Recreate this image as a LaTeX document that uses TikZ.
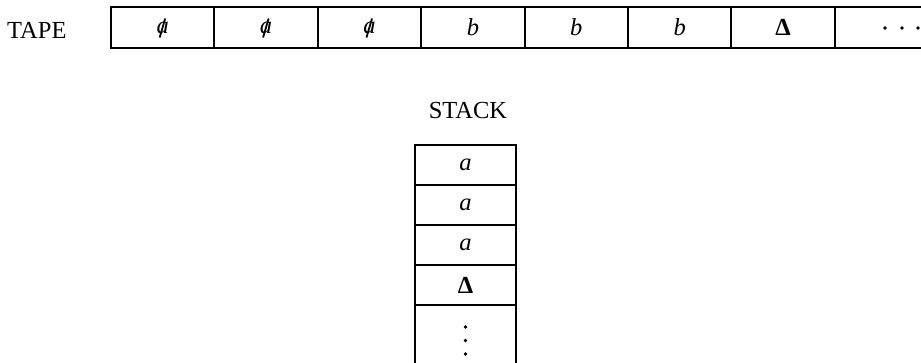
\documentclass[tikz,border=0pt]{standalone}
\usepackage{fontspec}
\setmainfont{Liberation Serif}
\begin{document}
\begin{tikzpicture}[x=1pt,y=-1pt,
  txt/.style={font=\fontsize{24.5}{26}\selectfont},
  tcell/.style={draw, line width=2pt, outer sep=0pt, minimum width=103.4pt, minimum height=41pt,
     inner sep=0pt, anchor=north west, txt},
  scell/.style={draw, line width=2pt, outer sep=0pt, minimum width=101pt, minimum height=40pt,
     inner sep=0pt, anchor=north west, txt},
  edge/.style={line width=2pt},
  slash/.style={line width=1.8pt},
  dot/.style={circle, fill, inner sep=0pt, minimum size=3.8pt}]
\useasboundingbox (0,0) rectangle (921,362);
% label
\node[txt, anchor=base west, inner sep=0pt] (tapelbl) at (7,38) {TAPE};
% tape cells
\node[tcell] (t1) at (111,7) {\itshape a};
\node[tcell] (t2) at (214.4,7) {\itshape a};
\node[tcell] (t3) at (317.8,7) {\itshape a};
\node[tcell] (t4) at (421.2,7) {\itshape b};
\node[tcell] (t5) at (524.6,7) {\itshape b};
\node[tcell] (t6) at (628,7) {\itshape b};
\node[tcell] (t7) at (731.4,7) {\bfseries Δ};
\foreach \c in {t1,t2,t3}
  \draw[slash] ([xshift=-3pt,yshift=-10pt]\c.center) -- ([xshift=2.5pt,yshift=9pt]\c.center);
\coordinate (tr) at (922,7);
\coordinate (br) at (922,48);
\draw[edge] (t7.north east) -- (tr);
\draw[edge] (t7.south east) -- (br);
\node[dot] (d1) at (885,28) {};
\node[dot] (d2) at (902,28) {};
\node[dot] (d3) at (918,28) {};
% stack
\node[txt, anchor=base, inner sep=0pt] (stacklbl) at (468,118) {STACK};
\node[scell] (s1) at (415,145) {\itshape a};
\node[scell] (s2) at (415,185) {\itshape a};
\node[scell] (s3) at (415,225) {\itshape a};
\node[scell] (s4) at (415,265) {\bfseries Δ};
\coordinate (sbl) at (415,363);
\coordinate (sbr) at (516,363);
\draw[edge] (s4.south west) -- (sbl);
\draw[edge] (s4.south east) -- (sbr);
\node[dot] (v1) at (465.5,327) {};
\node[dot] (v2) at (465.5,340.5) {};
\node[dot] (v3) at (465.5,354) {};
\end{tikzpicture}
\end{document}
